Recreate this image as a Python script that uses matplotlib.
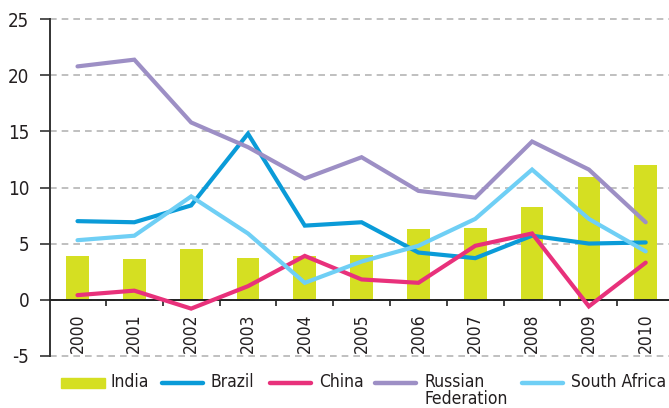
import numpy as np
import matplotlib.pyplot as plt
from matplotlib.lines import Line2D
from matplotlib.patches import Rectangle

plt.rcParams['font.family'] = ['DejaVu Sans']
plt.rcParams['font.stretch'] = 'condensed'
plt.rcParams['axes.unicode_minus'] = False

# data
years = [str(y) for y in range(2000, 2011)]
india = [3.9, 3.6, 4.5, 3.7, 3.9, 4.0, 6.3, 6.4, 8.3, 10.9, 12.0]
brazil = [7.0, 6.9, 8.4, 14.8, 6.6, 6.9, 4.2, 3.7, 5.7, 5.0, 5.1]
china = [0.4, 0.8, -0.8, 1.2, 3.9, 1.8, 1.5, 4.8, 5.9, -0.6, 3.3]
russia = [20.8, 21.4, 15.8, 13.6, 10.8, 12.7, 9.7, 9.1, 14.1, 11.6, 6.9]
south_africa = [5.3, 5.7, 9.2, 5.9, 1.5, 3.4, 4.8, 7.2, 11.6, 7.2, 4.3]

c_india = '#d5df22'
c_brazil = '#0a9bd8'
c_china = '#e8317b'
c_russia = '#9d8fc5'
c_sa = '#6fcff5'
txt = '#231f20'

W, H = 669, 408
fig = plt.figure(figsize=(W / 100, H / 100), dpi=100)
ax = fig.add_axes([50 / W, 1 - 355.7 / H, 1 - 50 / W, (355.7 - 19.3) / H])

x = np.arange(len(years))
ax.bar(x, india, width=0.4, color=c_india, zorder=2)
lines = [(brazil, c_brazil), (china, c_china), (russia, c_russia), (south_africa, c_sa)]
for vals, col in lines:
    ax.plot(x, vals, color=col, lw=3, solid_capstyle='round', solid_joinstyle='miter', zorder=3)

ax.set_xlim(-0.484, 10.41)
ax.set_ylim(-5, 25)
ax.set_yticks(range(-5, 30, 5))
ax.tick_params(axis='y', length=7, width=1.2, color='#333333', pad=8, labelsize=13.5, labelcolor=txt)
ax.yaxis.grid(True, linestyle=(0, (4, 3)), color='#b5b5b5', lw=1.2, clip_on=False)
ax.set_axisbelow(True)

for s in ['top', 'right']:
    ax.spines[s].set_visible(False)
ax.spines['bottom'].set_position(('data', 0))
ax.spines['bottom'].set_color('#222222')
ax.spines['bottom'].set_linewidth(1.4)
ax.spines['left'].set_color('#333333')
ax.spines['left'].set_linewidth(1.4)
ax.spines['bottom'].set_zorder(2.5)

ax.set_xticks(x)
ax.set_xticklabels(years, rotation=90)
ax.tick_params(axis='x', which='major', length=0, pad=10, labelsize=12.5, labelcolor=txt)
ax.set_xticks(x[:-1] + 0.5, minor=True)
ax.tick_params(axis='x', which='minor', length=4, width=1.2, color='#222222', direction='out')

# legend drawn by hand so the two-line label hangs below like the original
def fx(px):
    return px / W

def fy(py):
    return 1 - py / H

fs_leg = 12.5
leg_y = 382
fig.add_artist(Rectangle((fx(61), fy(388)), fx(105) - fx(61), 10 / H,
                         transform=fig.transFigure, color=c_india))
fig.text(fx(111), fy(leg_y), 'India', fontsize=fs_leg, color=txt, va='center', ha='left')

leg_items = [(160, 'Brazil', c_brazil), (268, 'China', c_china),
             (373, 'Russian\nFederation', c_russia), (520, 'South Africa', c_sa)]
for x0, label, col in leg_items:
    fig.add_artist(Line2D([fx(x0 + 2), fx(x0 + 43)], [fy(leg_y + 1), fy(leg_y + 1)],
                          transform=fig.transFigure, color=col, lw=3.2, solid_capstyle='round'))
    parts = label.split('\n')
    fig.text(fx(x0 + 51), fy(leg_y), parts[0], fontsize=fs_leg, color=txt, va='center', ha='left')
    if len(parts) > 1:
        fig.text(fx(x0 + 51), fy(leg_y + 16.5), parts[1], fontsize=fs_leg, color=txt,
                 va='center', ha='left')

fig.savefig('out.png', dpi=100)
